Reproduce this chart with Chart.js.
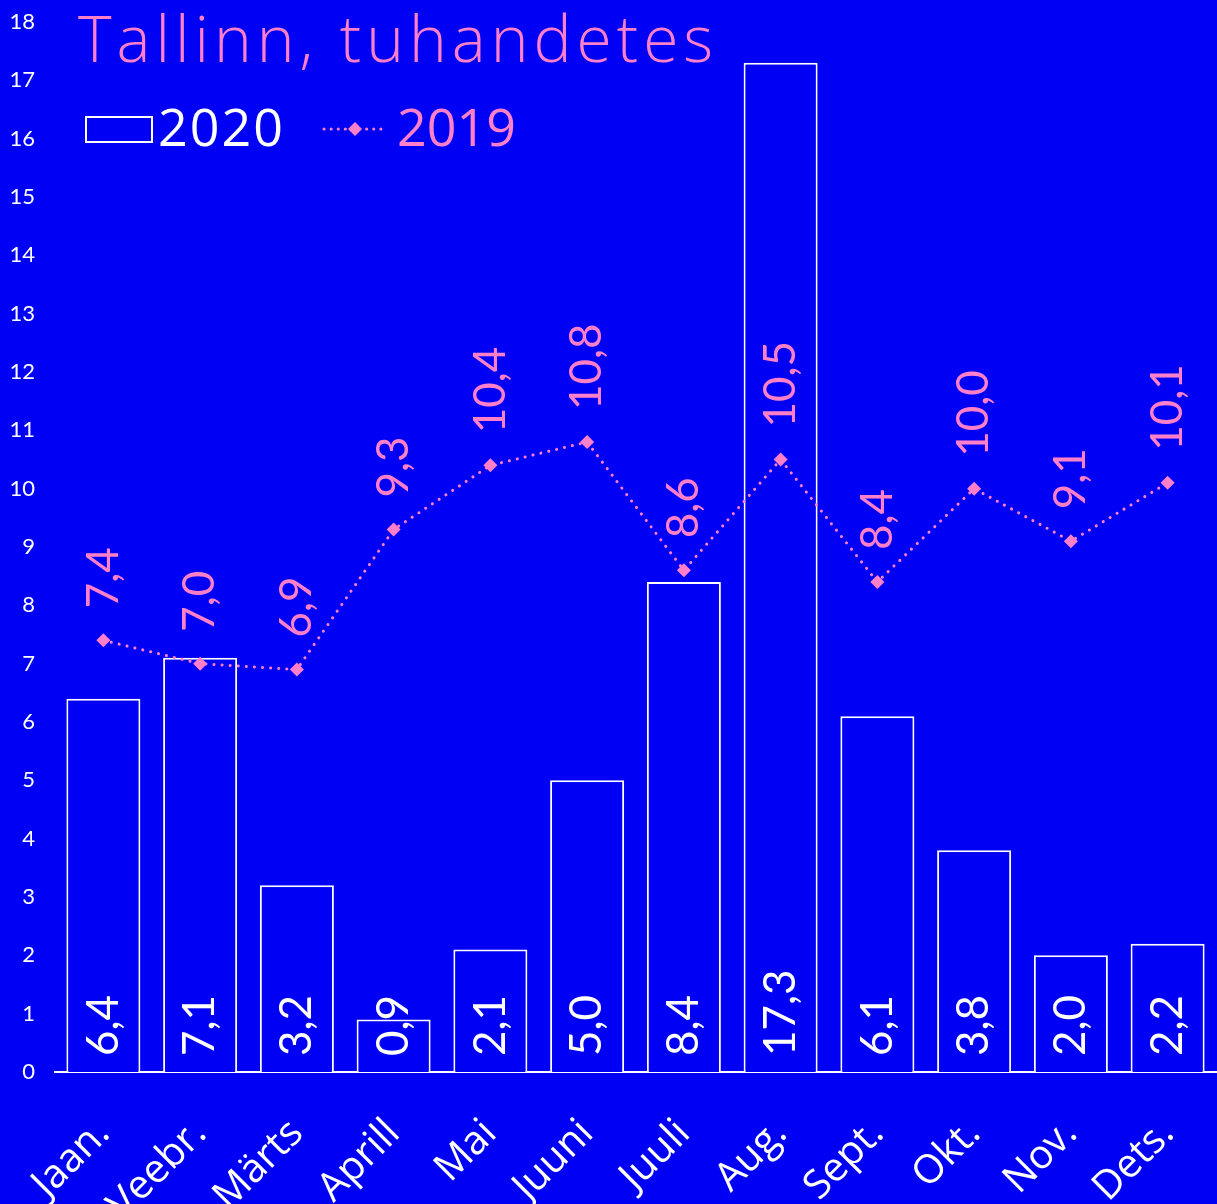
<!DOCTYPE html>
<html>
<head>
<meta charset="utf-8">
<script src="https://cdn.jsdelivr.net/npm/chart.js@4"></script>
<style>
  html, body { margin: 0; padding: 0; background: #0000f5; overflow: hidden; }
  #wrap { width: 1217px; height: 1204px; overflow: hidden; }
</style>
</head>
<body>
<div id="wrap"><canvas id="myChart" width="1223" height="1204"></canvas></div>
<script>
const months = ['Jaan.', 'Veebr.', 'Märts', 'Aprill', 'Mai', 'Juuni', 'Juuli', 'Aug.', 'Sept.', 'Okt.', 'Nov.', 'Dets.'];
const values2020 = [6.4, 7.1, 3.2, 0.9, 2.1, 5.0, 8.4, 17.3, 6.1, 3.8, 2.0, 2.2];
const values2019 = [7.4, 7.0, 6.9, 9.3, 10.4, 10.8, 8.6, 10.5, 8.4, 10.0, 9.1, 10.1];
const titleText = 'Tallinn, tuhandetes';

const BG = '#0000f5';
const PINK = '#ff80c8';
const FONT = 'Lato, "Open Sans", sans-serif';
const WIDE = '"Open Sans", Lato, sans-serif';

// value labels drawn vertically, plus title and legend inside the plot
const labelsPlugin = {
    id: 'labels',
    afterDatasetsDraw(chart) {
        const ctx = chart.ctx;
        const fmt = v => v.toFixed(1).replace('.', ',');
        ctx.save();
        ctx.font = '400 44px ' + FONT;
        ctx.textAlign = 'left';
        ctx.textBaseline = 'middle';

        const base = chart.scales.y.getPixelForValue(0);
        chart.getDatasetMeta(0).data.forEach((el, i) => {
            ctx.save();
            ctx.translate(el.x, base - 16);
            ctx.rotate(-Math.PI / 2);
            ctx.fillStyle = '#ffffff';
            ctx.fillText(fmt(values2020[i]), 0, 0);
            ctx.restore();
        });
        chart.getDatasetMeta(1).data.forEach((el, i) => {
            ctx.save();
            ctx.translate(el.x, el.y - 32);
            ctx.rotate(-Math.PI / 2);
            ctx.fillStyle = PINK;
            ctx.fillText(fmt(values2019[i]), 0, 0);
            ctx.restore();
        });

        // title
        ctx.fillStyle = PINK;
        ctx.font = '300 64px ' + WIDE;
        ctx.textBaseline = 'alphabetic';
        ctx.letterSpacing = '5px';
        ctx.fillText(titleText, 78, 62);

        // legend
        ctx.strokeStyle = '#ffffff';
        ctx.lineWidth = 2;
        ctx.fillStyle = BG;
        ctx.fillRect(86, 117, 66, 25);
        ctx.strokeRect(86, 117, 66, 25);
        ctx.font = '400 52px ' + WIDE;
        ctx.fillStyle = '#ffffff';
        ctx.letterSpacing = '2px';
        ctx.fillText('2020', 158, 146);

        ctx.strokeStyle = PINK;
        ctx.lineWidth = 3;
        ctx.lineCap = 'round';
        ctx.setLineDash([0.1, 7]);
        ctx.beginPath();
        ctx.moveTo(324, 129);
        ctx.lineTo(386, 129);
        ctx.stroke();
        ctx.setLineDash([]);
        ctx.fillStyle = PINK;
        ctx.beginPath();
        ctx.moveTo(355, 122);
        ctx.lineTo(362, 129);
        ctx.lineTo(355, 136);
        ctx.lineTo(348, 129);
        ctx.closePath();
        ctx.fill();
        ctx.letterSpacing = '0px';
        ctx.fillText('2019', 397, 146);
        ctx.restore();
    }
};

const bgPlugin = {
    id: 'bg',
    beforeDraw(chart) {
        const ctx = chart.ctx;
        ctx.save();
        ctx.fillStyle = BG;
        ctx.fillRect(0, 0, chart.width, chart.height);
        ctx.restore();
    }
};

const ctx = document.getElementById('myChart').getContext('2d');
const myChart = new Chart(ctx, {
    type: 'bar',
    data: {
        labels: months,
        datasets: [{
            label: '2020',
            data: values2020,
            backgroundColor: BG,
            borderColor: '#ffffff',
            borderWidth: 2,
            barPercentage: 0.765,
            categoryPercentage: 1.0,
            order: 2
        }, {
            type: 'line',
            label: '2019',
            data: values2019,
            borderColor: PINK,
            borderWidth: 3,
            borderDash: [0.1, 8],
            borderCapStyle: 'round',
            pointStyle: 'rectRot',
            pointRadius: 7,
            pointBackgroundColor: PINK,
            pointBorderWidth: 0,
            tension: 0,
            order: 1
        }]
    },
    options: {
        responsive: false,
        animation: false,
        layout: { padding: { top: 22, right: 0, left: 0, bottom: 0 } },
        plugins: {
            legend: { display: false },
            title: { display: false },
            tooltip: { enabled: false }
        },
        scales: {
            y: {
                min: 0,
                max: 18,
                ticks: {
                    stepSize: 1,
                    color: '#ffffff',
                    font: { family: FONT, size: 22, weight: 400 },
                    padding: 12
                },
                grid: { display: false },
                border: { display: false },
                afterFit(scale) {
                    scale.width = 55;
                    scale.paddingTop = 0;
                    scale.paddingBottom = 0;
                }
            },
            x: {
                ticks: {
                    color: '#ffffff',
                    font: { family: WIDE, size: 40, weight: 400 },
                    minRotation: 45,
                    maxRotation: 45,
                    padding: 30
                },
                grid: { display: false },
                border: { display: true, color: '#ffffff', width: 2 },
                afterFit(scale) {
                    scale.height = 132;
                    scale.paddingRight = 0;
                    scale.paddingLeft = 0;
                }
            }
        }
    },
    plugins: [bgPlugin, labelsPlugin]
});
</script>
</body>
</html>
